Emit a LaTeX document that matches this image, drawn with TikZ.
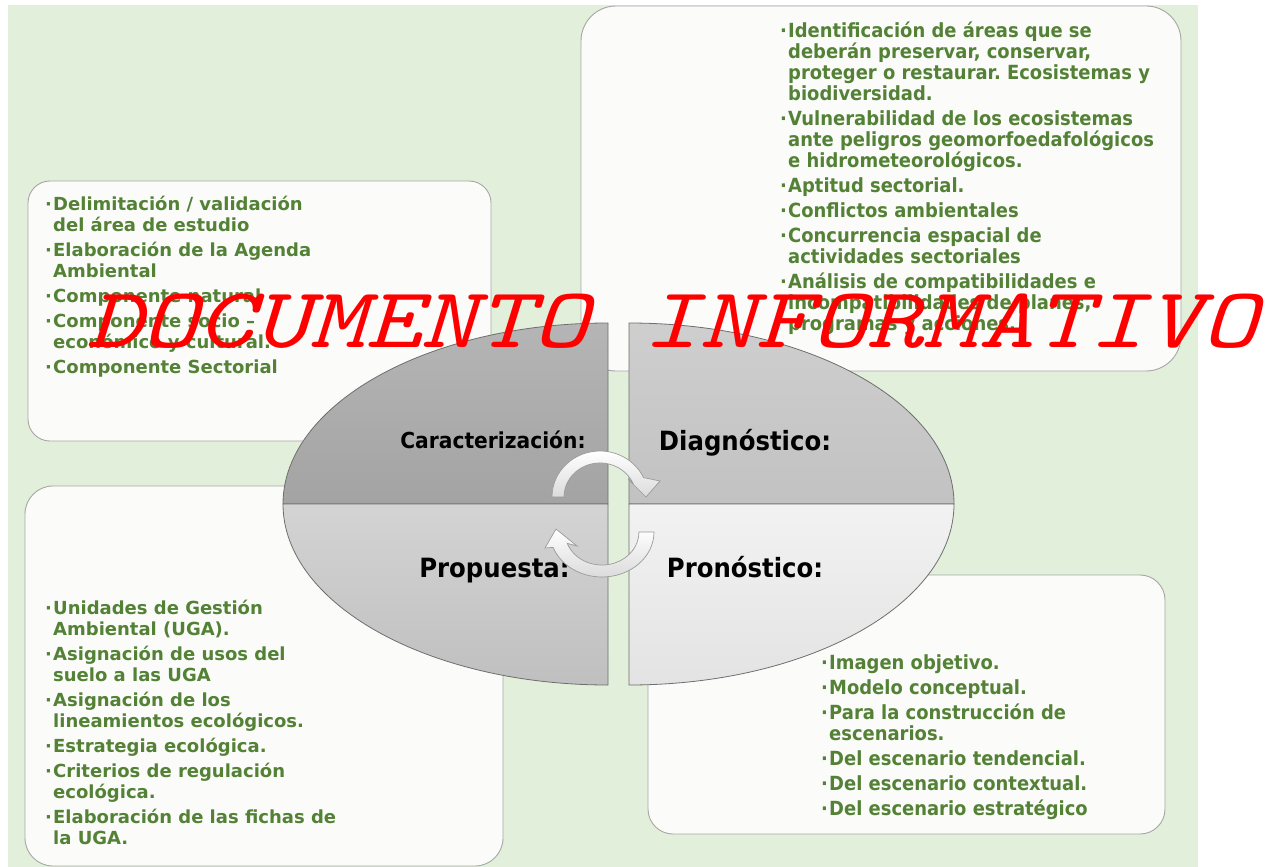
\documentclass[tikz,border=0pt]{standalone}
\usepackage{fontspec}
\usepackage{graphicx}
\setmainfont{DejaVu Sans}
\newfontfamily\wfont{DejaVu Sans}
\newfontfamily\cfont{DejaVu Sans}[FakeStretch=0.92]
\definecolor{bggreen}{HTML}{E2EFDA}
\definecolor{boxfill}{HTML}{FBFBF9}
\definecolor{boxgray}{HTML}{A6A6A6}
\definecolor{qgray}{HTML}{6E6E6E}
\definecolor{txtgreen}{HTML}{538135}
\definecolor{arrgray}{HTML}{9A9A9A}
\newcommand\bul{\makebox[8pt][l]{·}}
\newcommand\ind{\hspace*{8pt}}
\tikzset{
  panel/.style={draw=boxgray, fill=boxfill, line width=0.9pt},
  quarter/.style={draw=qgray, line width=0.8pt},
  cyc/.style={draw=arrgray, line width=0.7pt, top color=white, bottom color=black!14},
  lefttxt/.style={anchor=north west, inner sep=0pt, align=left, text=txtgreen,
    font=\frenchspacing\wfont\bfseries\fontsize{18}{21}\selectfont},
  righttxt/.style={anchor=north west, inner sep=0pt, align=left, text=txtgreen,
    font=\frenchspacing\cfont\bfseries\fontsize{19.5}{21}\selectfont},
  qlabel/.style={anchor=base, inner sep=0pt, text=black},
  wm/.style={anchor=base west, inner sep=0pt, text=red},
}
\begin{document}
\begin{tikzpicture}[x=1pt,y=-1pt]
\useasboundingbox (0,0) rectangle (1274,867);
\fill[white] (0,0) rectangle (1274,867);
\fill[bggreen] (8,5) rectangle (1198,867);
\node[anchor=base, inner sep=0pt, font=\wfont\fontsize{18}{21}\selectfont] (frag) at (228,-3) {g};

% panels
\draw[panel, rounded corners=22pt] (28,181) rectangle (491,441);
\draw[panel, rounded corners=35pt] (581,6) rectangle (1181,371);
\draw[panel, rounded corners=28pt] (25,486) rectangle (503,866);
\draw[panel, rounded corners=25pt] (648,575) rectangle (1165,834);

% panel texts
\node[lefttxt] (tltxt) at (45,193.3) {\vphantom{Á}\bul Delimitación / validación\\
\ind del área de estudio\\[4pt]
\bul Elaboración de la Agenda\\
\ind Ambiental\\[4pt]
\bul Componente natural\\[4pt]
\bul Componente socio –\\
\ind económico y cultural.\\[4pt]
\bul Componente Sectorial};

\node[righttxt] (trtxt) at (780,18.9) {\vphantom{Á}\bul Identificación de áreas que se\\
\ind deberán preservar, conservar,\\
\ind proteger o restaurar. Ecosistemas y\\
\ind biodiversidad.\\[4pt]
\bul Vulnerabilidad de los ecosistemas\\
\ind ante peligros geomorfoedafológicos\\
\ind e hidrometeorológicos.\\[4pt]
\bul Aptitud sectorial.\\[4pt]
\bul Conflictos ambientales\\[4pt]
\bul Concurrencia espacial de\\
\ind actividades sectoriales\\[4pt]
\bul Análisis de compatibilidades e\\
\ind incompatibilidades de planes,\\
\ind programas y acciones.};

\node[lefttxt] (bltxt) at (45,597.3) {\vphantom{Á}\bul Unidades de Gestión\\
\ind Ambiental (UGA).\\[4pt]
\bul Asignación de usos del\\
\ind suelo a las UGA\\[4pt]
\bul Asignación de los\\
\ind lineamientos ecológicos.\\[4pt]
\bul Estrategia ecológica.\\[4pt]
\bul Criterios de regulación\\
\ind ecológica.\\[4pt]
\bul Elaboración de las fichas de\\
\ind la UGA.};

\node[righttxt] (brtxt) at (821,650.9) {\vphantom{Á}\bul Imagen objetivo.\\[4pt]
\bul Modelo conceptual.\\[4pt]
\bul Para la construcción de\\
\ind escenarios.\\[4pt]
\bul Del escenario tendencial.\\[4pt]
\bul Del escenario contextual.\\[4pt]
\bul Del escenario estratégico};

% ellipse quarters
\draw[quarter, top color=black!29, bottom color=black!36] (608,504) -- (283,504)
  arc[start angle=180, end angle=270, x radius=325, y radius=181] -- cycle;
\draw[quarter, top color=black!19, bottom color=black!24] (629,504) -- (629,323)
  arc[start angle=270, end angle=360, x radius=325, y radius=181] -- cycle;
\draw[quarter, top color=black!17, bottom color=black!25] (608,504) -- (283,504)
  arc[start angle=180, end angle=90, x radius=325, y radius=181] -- cycle;
\draw[quarter, top color=black!5, bottom color=black!11] (629,504) -- (954,504)
  arc[start angle=0, end angle=90, x radius=325, y radius=181] -- cycle;

% quarter labels
\node[qlabel, font=\cfont\bfseries\fontsize{22}{26}\selectfont] (car) at (493,448) {Caracterización:};
\node[qlabel, font=\cfont\bfseries\fontsize{26.5}{30}\selectfont] (dia) at (745,450) {Diagnóstico:};
\node[qlabel, font=\cfont\bfseries\fontsize{26.5}{30}\selectfont] (pro) at (494.5,577) {Propuesta:};
\node[qlabel, font=\cfont\bfseries\fontsize{26.5}{30}\selectfont] (pron) at (745,577) {Pronóstico:};

% circular arrows
\draw[cyc] (552,497) arc[start angle=180, end angle=335, x radius=48, y radius=46]
  -- (660,481) -- (646,497) -- (628,479) -- (632.6,482.6)
  arc[start angle=335, end angle=180, x radius=36, y radius=34] -- cycle;
\draw[cyc] (654,532) arc[start angle=0, end angle=160, x radius=52, y radius=45]
  -- (545,548) -- (556,529) -- (577,546) -- (567.2,543.3)
  arc[start angle=160, end angle=0, x radius=37, y radius=33] -- cycle;

% watermark
\node[wm] (wmark) at (86,347) {\scalebox{1.235}[1]{\ttfamily\itshape\fontsize{86}{86}\selectfont DOCUMENTO INFORMATIVO}};
\end{tikzpicture}
\end{document}
